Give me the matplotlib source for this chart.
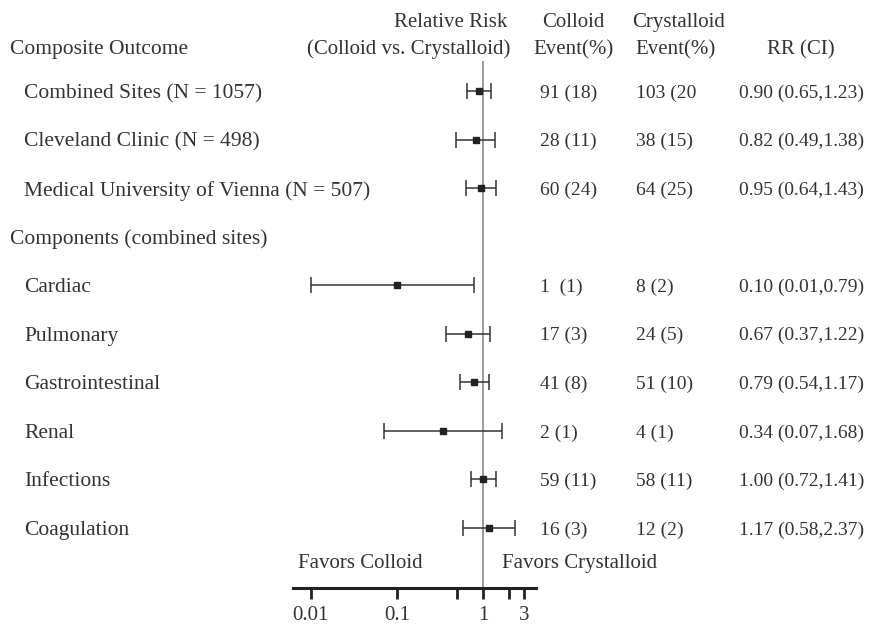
import matplotlib
matplotlib.use("Agg")
import matplotlib.pyplot as plt
from matplotlib.transforms import blended_transform_factory

plt.rcParams['font.family'] = ['Liberation Serif', 'DejaVu Serif']

labels = ["Combined Sites (N = 1057)", "Cleveland Clinic (N = 498)",
          "Medical University of Vienna (N = 507)",
          "Cardiac", "Pulmonary", "Gastrointestinal", "Renal", "Infections", "Coagulation"]
rows = [1, 2, 3, 5, 6, 7, 8, 9, 10]
rr = [0.90, 0.82, 0.95, 0.10, 0.67, 0.79, 0.34, 1.00, 1.17]
lo = [0.65, 0.49, 0.64, 0.01, 0.37, 0.54, 0.07, 0.72, 0.58]
hi = [1.23, 1.38, 1.43, 0.79, 1.22, 1.17, 1.68, 1.41, 2.37]
colloid = ["91 (18)", "28 (11)", "60 (24)", "1  (1)", "17 (3)", "41 (8)", "2 (1)", "59 (11)", "16 (3)"]
crystalloid = ["103 (20", "38 (15)", "64 (25)", "8 (2)", "24 (5)", "51 (10)", "4 (1)", "58 (11)", "12 (2)"]
rr_ci = ["0.90 (0.65,1.23)", "0.82 (0.49,1.38)", "0.95 (0.64,1.43)", "0.10 (0.01,0.79)",
         "0.67 (0.37,1.22)", "0.79 (0.54,1.17)", "0.34 (0.07,1.68)", "1.00 (0.72,1.41)",
         "1.17 (0.58,2.37)"]
section_labels = ["Composite Outcome", "Components (combined sites)"]
section_rows = [0, 4]
major_ticks = [0.01, 0.1, 1, 3]
major_labels = ["0.01", "0.1", "1", "3"]
minor_ticks = [0.5, 2]

W, H = 873, 630
fig = plt.figure(figsize=(W / 100, H / 100), dpi=100)
ax_left, ax_right = 293, 536
ax_top, ax_bot = 0, 588
ax = fig.add_axes([ax_left / W, 1 - ax_bot / H, (ax_right - ax_left) / W, (ax_bot - ax_top) / H])
ax.set_xscale('log')
ax.set_xlim(0.0062, 4.13)
ax.set_ylim(11.235, -0.873)
ax.patch.set_alpha(0)
for s in ['top', 'right', 'left']:
    ax.spines[s].set_visible(False)
ax.spines['bottom'].set_linewidth(2.2)
ax.spines['bottom'].set_color('#222222')
ax.set_yticks([])
ax.set_xticks(major_ticks + minor_ticks)
ax.set_xticklabels(major_labels + [""] * len(minor_ticks))
ax.xaxis.set_minor_locator(matplotlib.ticker.NullLocator())
fs = 15.5      # row labels
fh = 15        # headers
fn = 14        # numeric columns
tc = '#333333'
ax.tick_params(axis='x', length=8, width=2, color='#222222', labelsize=15,
               labelcolor=tc, pad=5)

# reference line
ax.plot([1, 1], [0.4, 11.235], color='#9a9a9a', lw=1.4, zorder=1, clip_on=False)

for r, m, l, h in zip(rows, rr, lo, hi):
    ax.errorbar([m], [r], xerr=[[m - l], [h - m]], fmt='s', color='#222222', ms=4.5,
                ecolor='#333333', elinewidth=1.1, capsize=6, capthick=1.1, zorder=3)

tr = blended_transform_factory(fig.transFigure, ax.transData)
va = 'center_baseline'
# section headers
fig.text(10 / W, 1 - 47 / H, section_labels[0], fontsize=fs, color=tc, va=va, ha='left')
ax.text(10 / W, section_rows[1], section_labels[1], transform=tr, fontsize=fs, color=tc,
        va=va, ha='left')
for lab, r in zip(labels, rows):
    ax.text(24 / W, r, lab, transform=tr, fontsize=fs, color=tc, va=va, ha='left')
for c1, c2, c3, r in zip(colloid, crystalloid, rr_ci, rows):
    ax.text(540 / W, r, c1, transform=tr, fontsize=fn, color=tc, va=va, ha='left')
    ax.text(636 / W, r, c2, transform=tr, fontsize=fn, color=tc, va=va, ha='left')
    ax.text(739 / W, r, c3, transform=tr, fontsize=fn, color=tc, va=va, ha='left')

# headers
def ftext(x, y, s, ha='center'):
    fig.text(x / W, 1 - y / H, s, fontsize=fh, color=tc, ha=ha, va=va)

ftext(507, 20, "Relative Risk", ha='right')
ftext(510, 47, "(Colloid vs. Crystalloid)", ha='right')
ftext(573, 20, "Colloid")
ftext(573, 47, "Event(%)")
ftext(679, 20, "Crystalloid")
ftext(676, 47, "Event(%)")
ftext(801, 47, "RR (CI)")
ftext(298, 561, "Favors Colloid", ha='left')
ftext(502, 561, "Favors Crystalloid", ha='left')

fig.savefig("out.png", dpi=100, facecolor='white')
